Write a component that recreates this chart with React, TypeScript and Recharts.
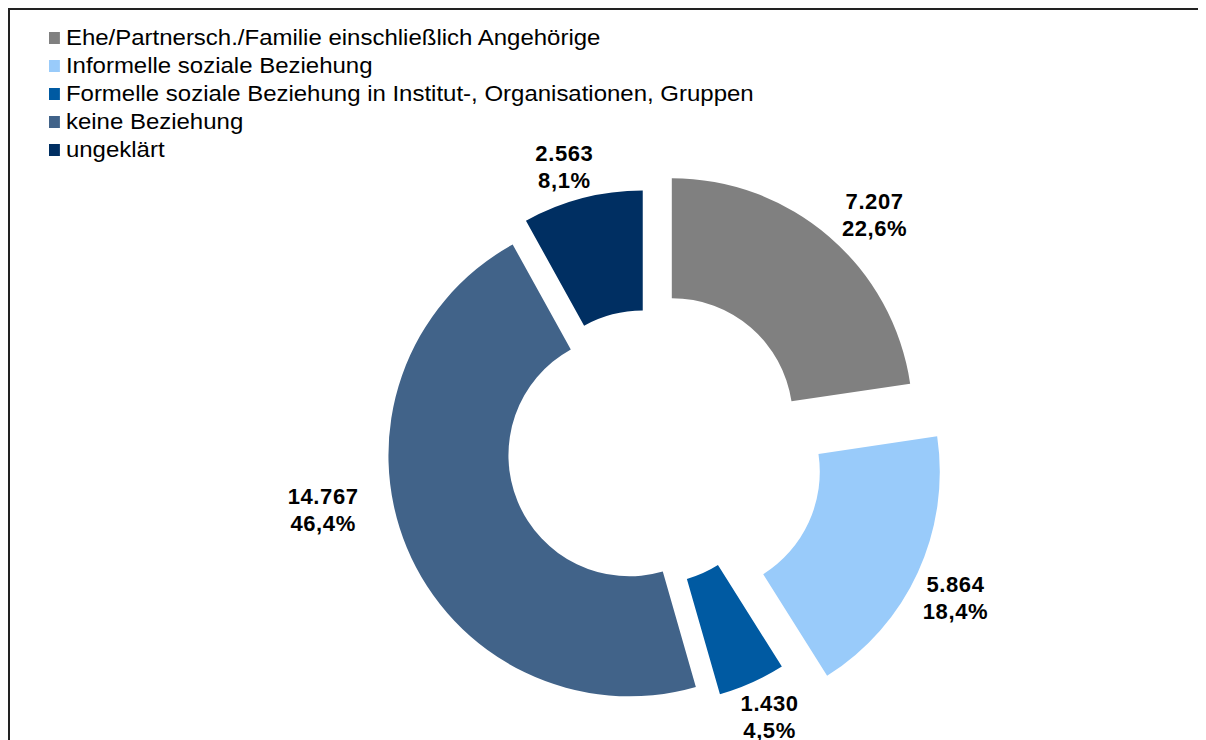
import { PieChart, Pie, Cell, Legend } from "recharts";

const categories = [
  "Ehe/Partnersch./Familie einschließlich Angehörige",
  "Informelle soziale Beziehung",
  "Formelle soziale Beziehung in Institut-, Organisationen, Gruppen",
  "keine Beziehung",
  "ungeklärt",
];
const values = [7207, 5864, 1430, 14767, 2563];

const colors = ["#808080", "#99CBFA", "#005AA2", "#416389", "#002F62"];
// how far each slice is pulled out of the ring
const explode = [38, 57, 16, 19, 17];
// label distance from slice centre and small turn (deg, clockwise)
const labelDist = [288, 286, 279, 311, 276];
const labelTurn = [4, 1.5, -0.5, 12.5, -2];

const CX = 637;
const CY = 438;
const R_OUT = 241;
const R_IN = 121;
const FONT = "'Liberation Sans', Arial, sans-serif";

const total = values.reduce((a, b) => a + b, 0);
const RAD = Math.PI / 180;

const fmtNum = (v: number) => String(v).replace(/\B(?=(\d{3})+(?!\d))/g, ".");
const fmtPct = (v: number) => ((v / total) * 100).toFixed(1).replace(".", ",") + "%";

// start/end angles, clockwise from 12 o'clock
const slices = values.map((v, i) => {
  const before = values.slice(0, i).reduce((a, b) => a + b, 0);
  const a1 = (before / total) * 360;
  const a2 = ((before + v) / total) * 360;
  const mid = (a1 + a2) / 2;
  return {
    name: categories[i],
    value: v,
    startAngle: 90 - a1,
    endAngle: 90 - a2,
    cx: CX + explode[i] * Math.sin(mid * RAD),
    cy: CY - explode[i] * Math.cos(mid * RAD),
    mid,
  };
});

const makeLabel = (i: number) => (props: any) => {
  const { cx, cy, value } = props;
  const a = (slices[i].mid + labelTurn[i]) * RAD;
  const x = cx + labelDist[i] * Math.sin(a);
  const y = cy - labelDist[i] * Math.cos(a);
  return (
    <text
      x={x}
      y={y}
      textAnchor="middle"
      fill="#000"
      fontFamily={FONT}
      fontSize={22}
      fontWeight="bold"
      letterSpacing={0.6}
    >
      <tspan x={x} y={y - 5.5}>
        {fmtNum(value)}
      </tspan>
      <tspan x={x} y={y + 21.5}>
        {fmtPct(value)}
      </tspan>
    </text>
  );
};

const renderLegend = (props: any) => {
  const items = [...(props.payload || [])].sort(
    (a: any, b: any) => categories.indexOf(a.value) - categories.indexOf(b.value)
  );
  return (
    <ul
      style={{
        listStyle: "none",
        margin: 0,
        padding: 0,
        transform: "scaleX(1.09)",
        transformOrigin: "left top",
      }}
    >
      {items.map((entry: any) => (
        <li
          key={entry.value}
          style={{
            display: "flex",
            alignItems: "center",
            height: 28,
            fontSize: 22,
            color: "#000",
            fontFamily: FONT,
            whiteSpace: "nowrap",
          }}
        >
          <span
            style={{
              display: "inline-block",
              width: 10,
              height: 12,
              background: entry.color,
              marginRight: 5.5,
            }}
          />
          {entry.value}
        </li>
      ))}
    </ul>
  );
};

export default function App() {
  return (
    <div
      style={{
        position: "relative",
        width: 1198,
        height: 740,
        boxSizing: "border-box",
        borderTop: "2px solid #222",
        borderLeft: "2px solid #222",
        fontFamily: FONT,
        background: "#fff",
      }}
    >
      <style>{"html,body{overflow:hidden}"}</style>
      <PieChart width={1196} height={730} margin={{ top: 0, right: 0, bottom: 0, left: 0 }}>
        {slices.map((s, i) => (
          <Pie
            key={s.name}
            data={[{ name: s.name, value: s.value }]}
            dataKey="value"
            nameKey="name"
            cx={s.cx}
            cy={s.cy}
            innerRadius={R_IN}
            outerRadius={R_OUT}
            startAngle={s.startAngle}
            endAngle={s.endAngle}
            fill={colors[i]}
            stroke="none"
            legendType="square"
            label={makeLabel(i)}
            labelLine={false}
            isAnimationActive={false}
          >
            <Cell fill={colors[i]} />
          </Pie>
        ))}
        <Legend
          layout="vertical"
          align="center"
          verticalAlign="middle"
          content={renderLegend}
          wrapperStyle={{ left: 39, top: 14, width: "auto", height: "auto" }}
        />
      </PieChart>
    </div>
  );
}
